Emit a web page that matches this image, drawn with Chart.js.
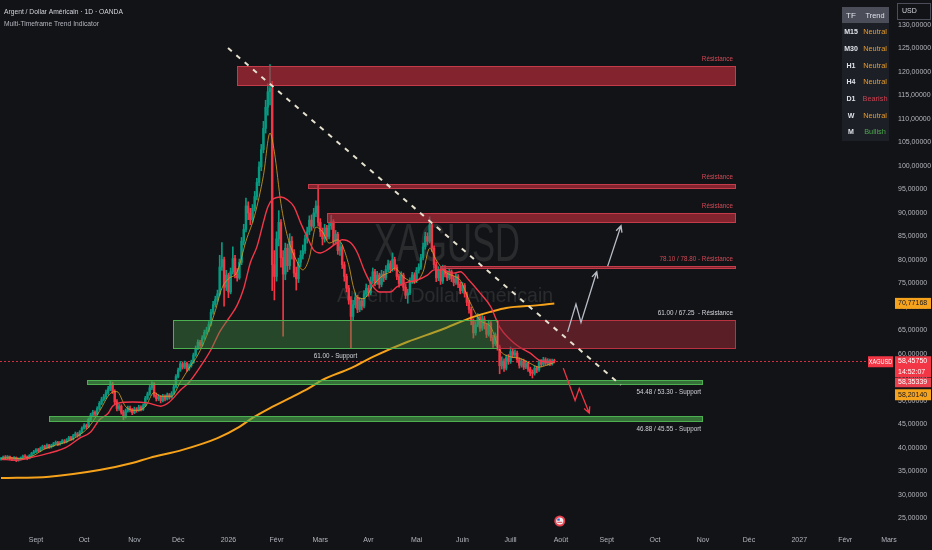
<!DOCTYPE html>
<html>
<head>
<meta charset="utf-8">
<script src="https://cdn.jsdelivr.net/npm/chart.js@4.4.1/dist/chart.umd.min.js"></script>
<style>
  html, body { margin: 0; padding: 0; background: #121316; overflow: hidden; }
  canvas { display: block; }
</style>
</head>
<body>
<canvas id="chart" width="932" height="550"></canvas>
<script>
// daily OHLC, one entry per trading day (index 0 = first candle on the left)
const opens = [
  37.6, 37.8, 38.1, 37.9, 38.2, 37.7, 37.6, 38.0, 37.4, 37.6, 37.9, 38.3, 38.1, 37.8, 38.4,
  38.9, 39.2, 39.6, 39.4, 39.9, 40.3, 40.1, 40.6, 40.2, 40.5, 40.9, 41.2, 40.8, 41.1, 41.5, 41.3, 41.7, 42.2, 41.9, 42.6, 43.0, 42.7,
  43.4, 44.2, 44.8, 44.5, 46.1, 47.0, 47.6, 47.2, 48.4, 49.5, 50.3, 50.9, 51.8, 52.6, 53.6,
  52.1, 49.8, 48.4, 48.9, 47.6, 46.6, 47.9, 48.5, 48.1, 47.5, 48.3, 48.0, 48.7, 48.2, 49.0,
  50.6, 51.5, 52.8, 53.6, 51.2, 50.5,
  50.9, 50.1, 51.0, 50.4, 51.3, 50.8, 51.6,
  53.0, 55.2, 56.6, 57.9, 57.2, 58.0, 56.8, 57.5, 58.2,
  59.8, 61.2, 62.5, 61.8, 63.4, 64.6, 65.1, 66.3, 68.9, 70.5, 71.6,
  72.8, 78.5, 80.1, 74.2,
  76.8, 73.2, 77.5, 80.3, 77.0, 76.2, 79.5, 84.0, 86.5, 91.5, 90.0, 88.6, 91.0, 93.5, 96.5, 99.8, 103.5, 108.0, 112.5, 115.8,
  116.5, 79.0, 76.5, 84.5, 88.0, 80.5, 77.0, 82.5, 78.8, 84.0, 81.5, 77.2, 76.0, 79.5,
  81.0, 82.0, 84.5, 86.0, 88.5, 87.2, 90.0, 91.5, 88.0, 86.0, 84.5, 86.8, 85.0,
  87.3, 88.2, 84.0, 85.5, 82.0, 82.8, 79.0, 76.5, 74.0, 71.5, 68.0,
  70.5, 72.0, 69.5, 71.3, 70.2, 72.8, 74.0, 73.0, 75.6, 77.5, 75.2, 76.8, 74.8, 77.0, 76.2,
  78.0, 79.2, 78.0, 80.1, 78.5, 76.5, 75.0, 76.8, 74.2, 72.5, 73.0, 75.5, 76.8, 75.6, 77.8, 78.5, 80.5, 82.8, 85.0, 84.0,
  87.5, 82.5, 79.0, 76.2, 77.8, 75.5, 78.2, 77.0, 76.2, 77.5, 76.0, 75.2,
  76.5, 74.8, 73.5, 74.6, 72.8, 71.0, 69.5, 67.0, 64.5, 66.2, 67.8, 65.5, 67.5, 66.0, 64.2, 66.5, 63.5, 62.2, 63.8, 61.5, 57.5,
  58.5, 57.0, 59.2, 58.4, 60.5, 59.8, 60.2, 58.8, 57.6, 58.5, 57.2, 58.0, 56.8, 56.0, 55.9, 57.0, 56.6, 58.2, 57.8, 58.8, 58.0, 58.6, 57.9, 58.5
];
const highs = [
  38.0, 38.3, 38.4, 38.4, 38.3, 38.0, 38.2, 38.1, 37.9, 38.1, 38.5, 38.6, 38.3, 38.6, 39.1,
  39.5, 39.9, 39.9, 40.2, 40.6, 40.6, 40.9, 40.8, 40.8, 41.2, 41.5, 41.4, 41.4, 41.8, 41.8, 42.0, 42.5, 42.5, 42.9, 43.4, 43.3, 43.7,
  44.5, 45.2, 45.1, 46.4, 47.4, 48.0, 47.9, 48.8, 49.9, 50.8, 51.4, 52.3, 53.1, 54.3, 54.0,
  52.4, 50.3, 49.4, 49.2, 48.0, 48.3, 48.9, 48.9, 48.4, 48.7, 48.6, 49.1, 49.0, 49.4, 51.0,
  51.9, 53.3, 54.1, 53.9, 51.7, 51.4,
  51.2, 51.4, 51.3, 51.7, 51.6, 52.0, 53.4,
  55.6, 57.0, 58.4, 58.3, 58.5, 58.3, 57.9, 58.7, 60.2,
  61.7, 63.0, 62.9, 63.9, 65.1, 65.7, 66.9, 69.5, 71.2, 72.3, 73.6,
  81.0, 83.7, 80.6, 77.8,
  77.2, 78.3, 82.8, 81.0, 78.2, 80.2, 84.8, 87.6, 93.2, 92.4, 91.0, 91.8, 94.6, 97.4, 100.9, 104.6, 109.5, 114.0, 117.5, 121.6,
  118.0, 82.0, 86.0, 90.5, 88.6, 82.0, 83.6, 83.4, 85.6, 85.0, 82.2, 78.5, 80.4, 82.0,
  83.2, 85.3, 87.0, 89.4, 89.6, 91.0, 92.6, 96.0, 88.8, 86.8, 87.6, 87.4, 88.0,
  89.5, 88.6, 86.3, 85.9, 83.8, 83.2, 79.6, 77.0, 74.6, 72.2, 71.4,
  73.0, 72.5, 72.0, 71.8, 73.5, 74.9, 74.6, 76.4, 78.3, 78.0, 77.6, 77.2, 77.8, 77.6, 78.8,
  80.0, 79.8, 81.5, 80.6, 79.0, 77.0, 77.5, 77.2, 74.8, 73.8, 76.2, 77.4, 77.3, 78.4, 79.2, 81.2, 83.6, 85.9, 85.8, 89.2,
  88.0, 83.0, 79.6, 78.6, 78.2, 78.9, 78.8, 77.6, 78.2, 77.9, 76.6, 77.1,
  76.9, 75.3, 75.2, 75.0, 73.2, 71.5, 70.0, 67.5, 66.9, 68.6, 68.2, 68.2, 68.0, 66.5, 67.2, 66.9, 64.0, 64.5, 64.2, 61.9, 59.4,
  59.0, 59.8, 59.9, 61.5, 61.0, 60.9, 60.6, 59.2, 59.0, 58.9, 58.6, 58.3, 57.2, 56.6, 57.5, 57.4, 58.7, 58.8, 59.3, 59.2, 59.0, 58.9, 58.9, 58.9
];
const lows = [
  37.4, 37.6, 37.7, 37.7, 37.5, 37.3, 37.4, 37.1, 37.2, 37.4, 37.7, 37.9, 37.5, 37.7, 38.2,
  38.7, 39.0, 39.1, 39.2, 39.7, 39.8, 39.9, 39.9, 40.0, 40.3, 40.7, 40.5, 40.6, 40.9, 41.0, 41.1, 41.5, 41.6, 41.7, 42.4, 42.3, 42.5,
  43.2, 44.0, 44.1, 44.3, 45.8, 46.7, 46.8, 47.0, 48.1, 49.2, 50.0, 50.5, 51.4, 52.2, 51.6,
  49.3, 47.9, 48.0, 47.2, 46.0, 46.4, 47.6, 47.7, 47.1, 47.3, 47.6, 47.8, 47.9, 48.0, 48.8,
  50.3, 51.2, 52.4, 50.8, 50.0, 50.1,
  49.6, 49.8, 50.0, 50.2, 50.4, 50.6, 51.4,
  52.8, 54.9, 56.3, 56.8, 56.9, 56.3, 56.5, 57.2, 58.0,
  59.5, 60.9, 61.3, 61.6, 63.1, 64.2, 64.8, 66.0, 68.5, 70.0, 71.2,
  72.5, 77.8, 70.2, 73.5,
  72.0, 72.8, 77.0, 76.2, 75.5, 75.9, 79.0, 83.2, 86.0, 88.6, 87.5, 88.0, 90.4, 92.8, 95.8, 99.0, 102.8, 107.0, 110.8, 113.0,
  73.5, 71.5, 75.5, 83.0, 78.5, 63.8, 75.8, 77.5, 78.0, 80.2, 76.4, 73.6, 75.2, 78.6,
  80.2, 81.4, 83.6, 85.4, 86.3, 86.8, 89.2, 87.2, 85.0, 83.2, 83.8, 84.2, 84.5,
  86.5, 83.2, 83.4, 81.2, 81.0, 78.2, 75.5, 73.2, 70.6, 61.2, 67.2,
  69.8, 68.8, 69.0, 69.4, 69.8, 72.2, 72.3, 72.6, 75.0, 74.5, 74.8, 74.0, 74.3, 75.4, 75.8,
  77.5, 77.3, 77.6, 77.8, 75.8, 74.2, 74.6, 73.5, 71.8, 70.8, 72.6, 75.0, 75.0, 75.2, 77.2, 78.0, 80.0, 82.3, 83.2, 83.6,
  81.8, 78.2, 75.4, 75.6, 74.8, 75.0, 76.4, 75.6, 75.8, 75.4, 74.5, 74.8,
  74.1, 72.8, 73.0, 72.1, 70.3, 68.7, 66.2, 63.4, 64.0, 65.8, 64.8, 65.0, 65.3, 63.5, 63.8, 62.8, 61.4, 61.8, 60.8, 55.8, 56.8,
  56.3, 56.6, 57.8, 58.0, 59.2, 59.3, 58.2, 57.0, 57.2, 56.7, 56.9, 56.3, 55.4, 54.9, 55.5, 56.0, 56.3, 57.3, 57.5, 57.6, 57.6, 57.5, 57.6, 58.1
];
const closes = [
  37.8, 38.1, 37.9, 38.2, 37.7, 37.6, 38.0, 37.4, 37.6, 37.9, 38.3, 38.1, 37.8, 38.4, 38.9,
  39.2, 39.6, 39.4, 39.9, 40.3, 40.1, 40.6, 40.2, 40.5, 40.9, 41.2, 40.8, 41.1, 41.5, 41.3, 41.7, 42.2, 41.9, 42.6, 43.0, 42.7, 43.4,
  44.2, 44.8, 44.5, 46.1, 47.0, 47.6, 47.2, 48.4, 49.5, 50.3, 50.9, 51.8, 52.6, 53.6, 52.1,
  49.8, 48.4, 48.9, 47.6, 46.6, 47.9, 48.5, 48.1, 47.5, 48.3, 48.0, 48.7, 48.2, 49.0, 50.6,
  51.5, 52.8, 53.6, 51.2, 50.5, 50.9,
  50.1, 51.0, 50.4, 51.3, 50.8, 51.6, 53.0,
  55.2, 56.6, 57.9, 57.2, 58.0, 56.8, 57.5, 58.2, 59.8,
  61.2, 62.5, 61.8, 63.4, 64.6, 65.1, 66.3, 68.9, 70.5, 71.6, 72.8,
  78.5, 80.1, 74.2, 76.8,
  73.2, 77.5, 80.3, 77.0, 76.2, 79.5, 84.0, 86.5, 91.5, 90.0, 88.6, 91.0, 93.5, 96.5, 99.8, 103.5, 108.0, 112.5, 115.8, 116.5,
  79.0, 76.5, 84.5, 88.0, 80.5, 77.0, 82.5, 78.8, 84.0, 81.5, 77.2, 76.0, 79.5, 81.0,
  82.0, 84.5, 86.0, 88.5, 87.2, 90.0, 91.5, 88.0, 86.0, 84.5, 86.8, 85.0, 87.3,
  88.2, 84.0, 85.5, 82.0, 82.8, 79.0, 76.5, 74.0, 71.5, 68.0, 70.5,
  72.0, 69.5, 71.3, 70.2, 72.8, 74.0, 73.0, 75.6, 77.5, 75.2, 76.8, 74.8, 77.0, 76.2, 78.0,
  79.2, 78.0, 80.1, 78.5, 76.5, 75.0, 76.8, 74.2, 72.5, 73.0, 75.5, 76.8, 75.6, 77.8, 78.5, 80.5, 82.8, 85.0, 84.0, 87.5,
  82.5, 79.0, 76.2, 77.8, 75.5, 78.2, 77.0, 76.2, 77.5, 76.0, 75.2, 76.5,
  74.8, 73.5, 74.6, 72.8, 71.0, 69.5, 67.0, 64.5, 66.2, 67.8, 65.5, 67.5, 66.0, 64.2, 66.5, 63.5, 62.2, 63.8, 61.5, 57.5, 58.5,
  57.0, 59.2, 58.4, 60.5, 59.8, 60.2, 58.8, 57.6, 58.5, 57.2, 58.0, 56.8, 56.0, 55.9, 57.0, 56.6, 58.2, 57.8, 58.8, 58.0, 58.6, 57.9, 58.5, 58.46
];

// moving averages (day index, price)
const fastMaDays = [0, 5, 9, 14, 20, 25, 30, 35, 40, 45, 50, 53, 57, 62, 66, 70, 73, 78, 82, 86, 90, 94, 98, 101, 104, 108, 112, 116, 120, 123,
  125, 128, 131, 135, 138, 141, 144, 147, 150, 154, 159, 161, 163, 166, 170, 174, 178, 180, 184, 189, 193, 196, 199, 203, 208, 210, 214, 219, 224, 228,
  233, 237, 242, 246, 250, 253];
const fastMaValues = [37.8, 37.9, 37.7, 38.2, 39.8, 40.6, 41.3, 42.5, 44.4, 47.8, 51.6, 52.0, 48.8, 48.0, 48.8, 51.8, 51.0, 51.0, 54.0, 57.0,
  59.8, 63.8, 69.2, 74.0, 76.0, 77.5, 84.0, 89.5, 98.0, 107.0, 103.0, 92.0, 85.0, 80.0, 77.9, 80.5, 87.0, 86.0, 83.6, 84.3,
  79.0, 74.5, 72.0, 71.8, 74.5, 76.5, 77.5, 78.3, 76.4, 75.3, 77.5, 82.5, 80.0, 77.5, 76.4, 75.7, 71.5, 67.2, 65.7, 60.9,
  59.4, 59.1, 58.0, 57.2, 57.7, 58.2];
const redMaDays = [0, 7, 15, 22, 30, 36, 41, 45, 49, 51, 54, 60, 67, 73, 77, 82, 86, 91, 96, 100, 104, 108, 111, 114, 117, 122, 124, 128, 131, 134, 137,
  140, 143, 146, 149, 154, 156, 160, 163, 166, 169, 173, 178, 181, 186, 190, 195, 198, 202, 207, 210, 214, 219, 224, 228, 233, 237, 242, 246, 250, 253];
const redMaValues = [37.6, 37.4, 38.1, 38.9, 40.2, 42.1, 43.4, 46.0, 47.4, 48.9, 49.6, 49.8, 49.6, 48.9, 49.8, 52.3, 54.0, 57.2, 60.9, 64.7, 67.5,
  70.4, 74.0, 79.4, 82.8, 91.3, 92.8, 93.4, 92.8, 91.3, 87.9, 84.9, 82.1, 81.5, 82.1, 83.8, 84.3, 83.6, 81.5, 77.9, 75.1,
  73.2, 73.2, 74.3, 75.3, 75.7, 76.8, 77.9, 77.9, 77.2, 77.5, 75.7, 73.0, 70.0, 65.7, 63.0, 61.5, 60.2, 58.7, 58.3, 58.4];
const slowMaDays = [0, 22, 45, 60, 68, 83, 99, 109, 115, 123, 132, 141, 147, 160, 170, 186, 201, 216, 224, 231, 246, 253];
const slowMaValues = [33.6, 33.9, 35.3, 36.8, 37.9, 39.6, 42.1, 44.5, 46.4, 48.5, 50.6, 52.8, 54.5, 57.0, 59.4, 62.6, 65.1, 67.9, 69.0, 69.8, 70.4, 70.77];

// axes
const monthDays = [16, 38, 61, 81, 104, 126, 146, 168, 190, 211, 233, 256, 277, 299, 321, 342, 365, 386, 406];
const monthLabels = ['Sept', 'Oct', 'Nov', 'Déc', '2026', 'Févr', 'Mars', 'Avr', 'Mai', 'Juin', 'Juill', 'Août',
  'Sept', 'Oct', 'Nov', 'Déc', '2027', 'Févr', 'Mars'];
const priceTicks = [25, 30, 35, 40, 45, 50, 55, 60, 65, 70, 75, 80, 85, 90, 95, 100, 105, 110, 115, 120, 125, 130];

// drawn zones: from/to day index, low/high price
const zoneKinds = ['res', 'res', 'res', 'res', 'supZone', 'resZone', 'sup', 'sup'];
const zoneFrom = [107.9, 140.4, 149.1, 200.7, 78.8, 227.2, 39.3, 22.0];
const zoneTo = [336.1, 336.1, 336.1, 336.1, 227.2, 336.1, 321.0, 321.0];
const zoneLow = [117.0, 95.1, 87.9, 78.1, 61.0, 61.0, 53.3, 45.55];
const zoneHigh = [121.2, 96.2, 90.0, 78.8, 67.25, 67.25, 54.48, 46.88];
const zoneTexts = ['Résistance', 'Résistance', 'Résistance', '78.10 / 78.80 - Résistance', '61.00 - Support',
  '61.00 / 67.25  - Résistance', '54.48 / 53.30 - Support', '46.88 / 45.55 - Support'];

const trendLine = [[103.8, 125.1], [283.4, 53.4]];
const upPath1 = [[259.1, 64.7], [262.9, 70.6], [265.2, 66.7], [272.4, 77.5]];
const upPath2 = [[277.4, 78.7], [283.5, 87.3]];
const downPath = [[257.1, 57.0], [262.5, 50.1], [264.4, 52.7], [269.0, 47.4]];

const lastPrice = 58.4575;
const tfRows = ['M15', 'M30', 'H1', 'H4', 'D1', 'W', 'M'];
const trendRows = ['Neutral', 'Neutral', 'Neutral', 'Neutral', 'Bearish', 'Neutral', 'Bullish'];

const BG = '#121316';
const UP = '#089981';
const DOWN = '#f23645';
const FONT = '"Liberation Sans", Arial, sans-serif';

const zoneStyle = {
  res: { fill: 'rgba(190,45,60,0.65)', line: '#c43c4a', text: '#d24a57' },
  resZone: { fill: 'rgba(150,40,55,0.55)', line: '#b8323f', text: '#d1d4dc' },
  supZone: { fill: 'rgba(70,150,70,0.40)', line: '#4caf50', text: '#d1d4dc' },
  sup: { fill: 'rgba(76,175,80,0.60)', line: '#4caf50', text: '#d1d4dc' }
};

function txt(ctx, s, x, y, o) {
  o = o || {};
  ctx.save();
  ctx.font = (o.weight || '') + ' ' + (o.size || 7) + 'px ' + FONT;
  ctx.fillStyle = o.color || '#d1d4dc';
  ctx.textBaseline = 'middle';
  ctx.textAlign = 'left';
  let sx = o.sx || 1;
  const raw = ctx.measureText(s).width;
  if (o.width) sx = o.width / raw;
  const w = raw * sx;
  let left = x;
  if (o.align === 'right') left = x - w;
  else if (o.align === 'center') left = x - w / 2;
  ctx.translate(left, y);
  ctx.scale(sx, 1);
  ctx.fillText(s, 0, 0);
  ctx.restore();
}

function toPx(chart, p) {
  return [chart.scales.x.getPixelForValue(p[0]), chart.scales.y.getPixelForValue(p[1])];
}

function arrowPath(ctx, chart, pts, color) {
  const px = pts.map(p => toPx(chart, p));
  ctx.save();
  ctx.strokeStyle = color;
  ctx.lineWidth = 1.3;
  ctx.beginPath();
  px.forEach((p, i) => i ? ctx.lineTo(p[0], p[1]) : ctx.moveTo(p[0], p[1]));
  const a = px[px.length - 2], b = px[px.length - 1];
  const ang = Math.atan2(b[1] - a[1], b[0] - a[0]);
  const len = 7;
  ctx.moveTo(b[0] - len * Math.cos(ang - 0.45), b[1] - len * Math.sin(ang - 0.45));
  ctx.lineTo(b[0], b[1]);
  ctx.lineTo(b[0] - len * Math.cos(ang + 0.45), b[1] - len * Math.sin(ang + 0.45));
  ctx.stroke();
  ctx.restore();
}

function priceTag(ctx, x, y1, y2, fill, lines, color) {
  ctx.fillStyle = fill;
  ctx.fillRect(x, y1, 932 - x - 1, y2 - y1);
  const step = (y2 - y1) / lines.length;
  lines.forEach((s, i) => txt(ctx, s, x + 3, y1 + step * (i + 0.5), { size: 7, color: color }));
}

const fmt = v => v.toFixed(5).replace('.', ',');

// keep the plot area flush with the canvas edges
function noScalePadding(s) {
  s.paddingTop = 0;
  s.paddingBottom = 0;
  s.paddingLeft = 0;
  s.paddingRight = 0;
}

const drawings = {
  id: 'drawings',
  beforeDraw(chart) {
    const ctx = chart.ctx;
    ctx.save();
    ctx.fillStyle = BG;
    ctx.fillRect(0, 0, chart.width, chart.height);
    ctx.restore();
  },
  beforeDatasetsDraw(chart) {
    const ctx = chart.ctx;
    const ys = chart.scales.y;
    // watermark
    txt(ctx, 'XAGUSD', 447, 246, { size: 53, color: 'rgba(255,255,255,0.10)', align: 'center', width: 146 });
    txt(ctx, 'Argent / Dollar Américain', 445, 296, { size: 21, color: 'rgba(255,255,255,0.10)', align: 'center', width: 216 });
    // last price line
    const y = Math.round(ys.getPixelForValue(lastPrice)) + 0.5;
    ctx.save();
    ctx.strokeStyle = 'rgba(242,54,69,0.85)';
    ctx.lineWidth = 1;
    ctx.setLineDash([2, 2]);
    ctx.beginPath();
    ctx.moveTo(0, y);
    ctx.lineTo(868, y);
    ctx.stroke();
    ctx.restore();
  },
  afterDatasetsDraw(chart) {
    const ctx = chart.ctx;
    const xs = chart.scales.x, ys = chart.scales.y;
    ctx.save();
    zoneKinds.forEach((k, i) => {
      const st = zoneStyle[k];
      const x1 = Math.round(xs.getPixelForValue(zoneFrom[i]));
      const x2 = Math.round(xs.getPixelForValue(zoneTo[i]));
      const y1 = Math.round(ys.getPixelForValue(zoneHigh[i]));
      const y2 = Math.round(ys.getPixelForValue(zoneLow[i]));
      ctx.fillStyle = st.fill;
      ctx.fillRect(x1, y1, x2 - x1, y2 - y1);
      ctx.strokeStyle = st.line;
      ctx.lineWidth = 1;
      ctx.strokeRect(x1 + 0.5, y1 + 0.5, x2 - x1 - 1, y2 - y1 - 1);
      const o = { size: 7, color: st.text, sx: 0.9 };
      if (k === 'res' || k === 'resZone') {
        txt(ctx, zoneTexts[i], x2 - 3, y1 - 7, Object.assign(o, { align: 'right' }));
      } else if (k === 'sup') {
        txt(ctx, zoneTexts[i], x2 - 2, y2 + 7, Object.assign(o, { align: 'right' }));
      } else {
        txt(ctx, zoneTexts[i], (x1 + x2) / 2, y2 + 7, Object.assign(o, { align: 'center' }));
      }
    });
    // dashed trend line
    const a = toPx(chart, trendLine[0]), b = toPx(chart, trendLine[1]);
    ctx.strokeStyle = '#e6e1cf';
    ctx.lineWidth = 2;
    ctx.setLineDash([5, 6]);
    ctx.beginPath();
    ctx.moveTo(a[0], a[1]);
    ctx.lineTo(b[0], b[1]);
    ctx.stroke();
    ctx.setLineDash([]);
    ctx.restore();
    arrowPath(ctx, chart, upPath1, '#b8bcc6');
    arrowPath(ctx, chart, upPath2, '#b8bcc6');
    arrowPath(ctx, chart, downPath, DOWN);
  },
  afterDraw(chart) {
    const ctx = chart.ctx;
    const ys = chart.scales.y;
    ctx.save();
    // header
    txt(ctx, 'Argent / Dollar Américain · 1D · OANDA', 4, 12, { size: 7.8, color: '#d1d4dc', sx: 0.86 });
    txt(ctx, 'Multi-Timeframe Trend Indicator', 4, 24, { size: 7.8, color: '#b2b5be', sx: 0.86 });

    // trend table
    ctx.fillStyle = '#1c1f26';
    ctx.fillRect(842, 7, 47, 134);
    ctx.fillStyle = '#4b4e58';
    ctx.fillRect(842, 7, 47, 16);
    txt(ctx, 'TF', 851, 15.5, { size: 8, color: '#e0e3eb', align: 'center' });
    txt(ctx, 'Trend', 875, 15.5, { size: 8, color: '#e0e3eb', align: 'center', sx: 0.92 });
    const trendColor = { Neutral: '#e59c2e', Bearish: '#c9404f', Bullish: '#4ca64c' };
    tfRows.forEach((tf, i) => {
      const y = 32 + i * 16.7;
      txt(ctx, tf, 851, y, { size: 8, color: '#e0e3eb', align: 'center', weight: 'bold', sx: 0.88 });
      txt(ctx, trendRows[i], 875, y, { size: 8, color: trendColor[trendRows[i]], align: 'center', sx: 0.92 });
    });

    // currency box
    ctx.strokeStyle = '#4b4e58';
    ctx.lineWidth = 1;
    ctx.strokeRect(897.5, 3.5, 33, 16);
    txt(ctx, 'USD', 902, 11.5, { size: 7, color: '#d1d4dc' });

    // price tags
    const yo = ys.getPixelForValue(70.77168);
    priceTag(ctx, 895, yo - 5.5, yo + 5.5, '#f5a21d', [fmt(70.77168)], '#131722');
    const yl = ys.getPixelForValue(lastPrice);
    ctx.fillStyle = DOWN;
    ctx.fillRect(868, yl - 5, 25, 11);
    txt(ctx, 'XAGUSD', 880.5, yl + 0.5, { size: 6.5, color: '#ffffff', align: 'center', sx: 0.85 });
    priceTag(ctx, 895, yl - 5, yl + 16, DOWN, [fmt(lastPrice), '14:52:07'], '#ffffff');
    priceTag(ctx, 895, yl + 16.5, yl + 26, '#e8404e', [fmt(58.35339)], '#ffffff');
    priceTag(ctx, 895, yl + 28, yl + 39, '#f5a21d', [fmt(58.20140)], '#131722');

    // event marker on the time axis
    const ex = chart.scales.x.getPixelForValue(255.5);
    ctx.beginPath();
    ctx.arc(ex, 521, 5.5, 0, Math.PI * 2);
    ctx.fillStyle = '#e8404e';
    ctx.fill();
    ctx.beginPath();
    ctx.arc(ex, 521, 3.6, 0, Math.PI * 2);
    ctx.fillStyle = '#f0f0f0';
    ctx.fill();
    ctx.fillStyle = '#2f5fc4';
    ctx.fillRect(ex - 2.5, 518.5, 2.5, 2.2);
    ctx.fillStyle = '#e8404e';
    ctx.fillRect(ex - 2.5, 521.8, 5, 1);
    ctx.restore();
  }
};

const days = closes.map((c, i) => i);
const candleColors = closes.map((c, i) => c >= opens[i] ? UP : DOWN);

new Chart(document.getElementById('chart').getContext('2d'), {
  type: 'bar',
  data: {
    datasets: [
      {
        type: 'line',
        data: slowMaDays.map((d, i) => ({ x: d, y: slowMaValues[i] })),
        borderColor: '#f7a21b',
        borderWidth: 2,
        pointRadius: 0,
        cubicInterpolationMode: 'monotone',
        order: 1
      },
      {
        type: 'line',
        data: redMaDays.map((d, i) => ({ x: d, y: redMaValues[i] })),
        borderColor: '#f2364a',
        borderWidth: 1.4,
        pointRadius: 0,
        cubicInterpolationMode: 'monotone',
        order: 0
      },
      {
        type: 'line',
        data: fastMaDays.map((d, i) => ({ x: d, y: fastMaValues[i] })),
        borderColor: '#d9a321',
        borderWidth: 0.8,
        pointRadius: 0,
        cubicInterpolationMode: 'monotone',
        order: 0
      },
      {
        data: days.map(i => ({ x: i, y: [lows[i], highs[i]] })),
        backgroundColor: candleColors,
        barThickness: 1,
        grouped: false,
        order: 3
      },
      {
        data: days.map(i => ({ x: i, y: [opens[i], closes[i]] })),
        backgroundColor: candleColors,
        barThickness: 1.8,
        minBarLength: 1,
        grouped: false,
        order: 2
      }
    ]
  },
  options: {
    responsive: false,
    animation: false,
    layout: { padding: 0 },
    plugins: {
      legend: { display: false },
      tooltip: { enabled: false }
    },
    scales: {
      x: {
        type: 'linear',
        min: -0.46,
        max: 408.78,
        offset: false,
        grid: { display: false, drawTicks: false },
        border: { display: false },
        afterBuildTicks: s => { s.ticks = monthDays.map(v => ({ value: v })); },
        afterFit: s => { s.height = 22; noScalePadding(s); },
        ticks: {
          autoSkip: false,
          maxRotation: 0,
          padding: 8,
          color: '#b2b5be',
          font: { size: 7, family: FONT },
          callback: v => monthLabels[monthDays.indexOf(v)] || ''
        }
      },
      y: {
        position: 'right',
        min: 22.98,
        max: 135.32,
        grid: { display: false, drawTicks: false },
        border: { display: false },
        afterBuildTicks: s => { s.ticks = priceTicks.map(v => ({ value: v })); },
        afterFit: s => { s.width = 37; noScalePadding(s); },
        ticks: {
          padding: 3,
          color: '#b2b5be',
          font: { size: 7, family: FONT },
          callback: v => fmt(v)
        }
      }
    }
  },
  plugins: [drawings]
});
</script>
</body>
</html>
